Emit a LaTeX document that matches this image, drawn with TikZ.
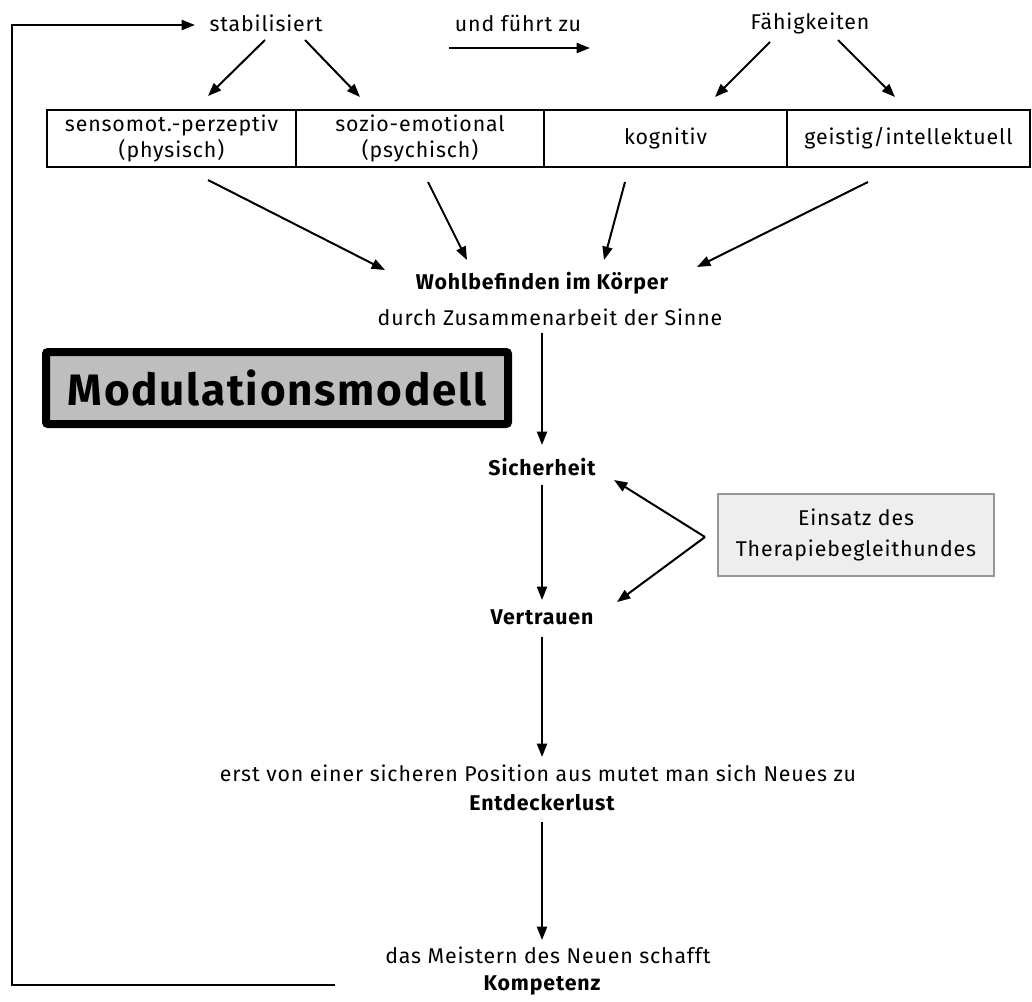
\documentclass[tikz,border=0pt]{standalone}
\usepackage{fontspec}
\setmainfont{Fira Sans}[LetterSpace=4]
\usepackage{xcolor}
\usepackage{tikz}
\usetikzlibrary{calc,arrows.meta}

\begin{document}
\begin{tikzpicture}[x=0.75pt,y=0.75pt,yscale=-1,xscale=1,
	txt/.style={inner sep=0.75pt,font=\fontsize{16}{19.5}\selectfont},
	bold/.style={txt,font=\fontsize{16}{19.5}\selectfont\bfseries},
	cell/.style={draw,line width=0.8pt,minimum height=42.75pt,inner sep=0pt,align=center,font=\fontsize{16}{19.5}\selectfont},
	arr/.style={line width=1.5pt,-{Triangle[length=10pt,width=7.5pt]}}]
	\useasboundingbox (0,0) rectangle (1032,1001);

	% Text Node
	\node[txt] (stab) at (266,23) {stabilisiert};
	% Text Node
	\node[txt] (fuehrt) at (518,23) {und führt zu};
	% Text Node
	\node[txt] (faeh) at (810,23) {Fähigkeiten};

	%Table cells
	\node[cell,minimum width=186.75pt] (sens) at (171.5,138.5) {sensomot.-perzeptiv\\(physisch)};
	\node[cell,minimum width=186pt] (sozio) at (420,138.5) {sozio-emotional\\(psychisch)};
	\node[cell,minimum width=182.25pt] (kogn) at (665.5,138.5) {kognitiv};
	\node[cell,minimum width=182.25pt] (geist) at (908.5,138.5) {geistig/intellektuell};

	% Text Node
	\node[bold] (wohl) at (542,283) {Wohlbefinden im Körper};
	% Text Node
	\node[txt] (sinne) at (550,317) {durch Zusammenarbeit der Sinne};

	%Title box
	\node[draw,line width=6pt,rounded corners=1.5pt,fill={rgb,255:red,190;green,190;blue,190},minimum width=346.5pt,minimum height=54pt,font=\fontsize{33}{40}\selectfont\bfseries] (titel) at (277,388) {Modulationsmodell};

	% Text Node
	\node[bold] (sich) at (542,467) {Sicherheit};
	% Text Node
	\node[bold] (vert) at (542,617) {Vertrauen};
	%Dog box
	\node[draw={rgb,255:red,150;green,150;blue,150},line width=0.8pt,fill={rgb,255:red,238;green,238;blue,238},minimum width=207pt,minimum height=61.5pt,align=center,font=\fontsize{16}{23}\selectfont] (hund) at (856,535) {Einsatz des\\Therapiebegleithundes};

	% Text Node
	\node[txt] (erst) at (538,773) {erst von einer sicheren Position aus mutet man sich Neues zu};
	% Text Node
	\node[bold] (entd) at (542,803) {Entdeckerlust};
	% Text Node
	\node[txt] (meist) at (548,955) {das Meistern des Neuen schafft};
	% Text Node
	\node[bold] (komp) at (542,985) {Kompetenz};

	\coordinate (back) at (12,25);

	%Arrows top
	\draw[arr] ($(fuehrt)+(-69,25)$) -- ($(fuehrt)+(72,25)$);
	\draw[arr] ($(stab)+(-1,17)$) -- ($(sens)+(36.5,-42.5)$);
	\draw[arr] ($(stab)+(39,17)$) -- ($(sozio)+(-60,-41.5)$);
	\draw[arr] ($(faeh)+(-40,19)$) -- ($(kogn)+(49.5,-41.5)$);
	\draw[arr] ($(faeh)+(28,17)$) -- ($(geist)+(-13.5,-41.5)$);

	%Arrows to Wohlbefinden
	\draw[arr] ($(sens)+(36.5,41.5)$) -- ($(wohl)+(-157,-13)$);
	\draw[arr] ($(sozio)+(8,43.5)$) -- ($(wohl)+(-75,-23)$);
	\draw[arr] ($(kogn)+(-40.5,43.5)$) -- ($(wohl)+(62,-23)$);
	\draw[arr] ($(geist)+(-40.5,43.5)$) -- ($(wohl)+(155,-16)$);

	%Arrows down the middle
	\draw[arr] ($(sinne)+(-8,16)$) -- ($(sich)+(0,-22)$);
	\draw[arr] ($(sich)+(0,18)$) -- ($(vert)+(0,-17)$);
	\draw[arr] ($(hund)+(-151,2)$) -- ($(sich)+(72,13)$);
	\draw[arr] ($(hund)+(-151,2)$) -- ($(vert)+(75,-15)$);
	\draw[arr] ($(vert)+(0,20)$) -- ($(erst)+(4,-16)$);
	\draw[arr] ($(entd)+(0,19)$) -- ($(meist)+(-6,-15)$);

	%Feedback loop
	\draw[arr] ($(komp)+(-207,0)$) -| (back) -- ($(stab)+(-71,2)$);

\end{tikzpicture}
\end{document}
